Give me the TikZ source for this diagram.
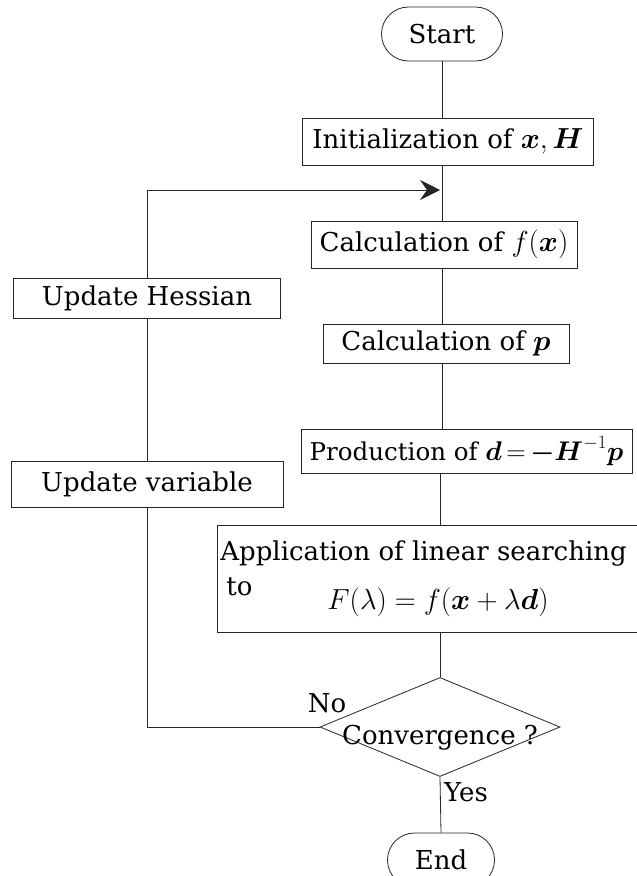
\RequirePackage{fix-cm}
\documentclass[tikz,border=0pt]{standalone}
\usepackage{amsmath}
\usepackage{fontspec}
\setmainfont{DejaVu Serif}
\usetikzlibrary{shapes.geometric,shapes.misc,arrows.meta}
\newcommand{\bigmath}[1]{{\fontsize{29}{33}\selectfont$#1$}}
\newcommand{\midmath}[1]{{\fontsize{27}{31}\selectfont$\thickmuskip=3mu\medmuskip=2mu #1$}}
\begin{document}
\begin{tikzpicture}[x=1pt,y=-1pt,
  line width=0.8pt,
  lbl/.style={font=\fontsize{26}{30}\selectfont, inner sep=0pt},
  box/.style={draw=black!85, rectangle, inner sep=0pt, lbl},
  term/.style={draw=black!85, rounded rectangle, inner sep=0pt, lbl},
  dec/.style={draw=black!85, diamond, inner sep=0pt},
  conn/.style={draw=black!85, line width=0.8pt},
  tipstyle/.style={-{Stealth[length=20pt,width=20pt,inset=7pt]}}]
\useasboundingbox (0,0) rectangle (637,876);
\fill[white] (0,0) rectangle (637,876);

% main column
\node[term, minimum width=121, minimum height=54] (start) at (442,34) {Start};
\node[box, minimum width=291, minimum height=47] (init) at (448,141.5) {Initialization of \bigmath{\boldsymbol{x},\boldsymbol{H}}};
\node[box, minimum width=266, minimum height=47] (calcf) at (444,244.5) {Calculation of \bigmath{f(\boldsymbol{x})}};
\node[box, minimum width=246, minimum height=39] (calcp) at (446,343.5) {Calculation of \bigmath{\boldsymbol{p}}};
\node[box, minimum width=331, minimum height=44, font=\fontsize{24.5}{29}\selectfont] (prod) at (466.5,451) {Production of \midmath{\boldsymbol{d}=\boldsymbol{-H}^{-1}\boldsymbol{p}}};
\node[box, minimum width=423, minimum height=107] (app) at (428.5,578.5) {};
\node[lbl, anchor=base west] (app1) at (220,560) {Application of linear searching};
\node[lbl, anchor=west] (app2) at (226,587) {to};
\node[lbl] (app3) at (438,602) {\bigmath{F(\lambda)=f(\boldsymbol{x}+\lambda\boldsymbol{d})}};
\node[dec, minimum width=240, minimum height=99] (conv) at (440,727) {};
\node[lbl] (convtxt) at (440,738) {Convergence ?};
\node[term, minimum width=107, minimum height=54] (end) at (441,860) {End};
\node[lbl] (no) at (327,703) {No};
\node[lbl] (yes) at (466,792) {Yes};

% left column
\node[box, minimum width=267, minimum height=40] (uphes) at (147,298) {Update Hessian};
\node[box, minimum width=272, minimum height=46] (upvar) at (147,484) {Update variable};
\coordinate (tip) at (440,190);

% connectors
\draw[conn] (start.south) -- (start.south |- init.north);
\draw[conn] (start.south |- init.south) -- (start.south |- calcf.north);
\draw[conn] (start.south |- calcf.south) -- (start.south |- calcp.north);
\draw[conn] (start.south |- calcp.south) -- (start.south |- prod.north);
\draw[conn] (conv.north |- prod.south) -- (conv.north |- app.north);
\draw[conn] (conv.north |- app.south) -- (conv.north);
\draw[conn] (conv.south) -- (end.north);
\draw[conn] (conv.west) -- (conv.west -| upvar.south) -- (upvar.south);
\draw[conn] (upvar.north) -- (uphes.south);
\draw[conn, tipstyle] (uphes.north) |- (tip);
\end{tikzpicture}
\end{document}
